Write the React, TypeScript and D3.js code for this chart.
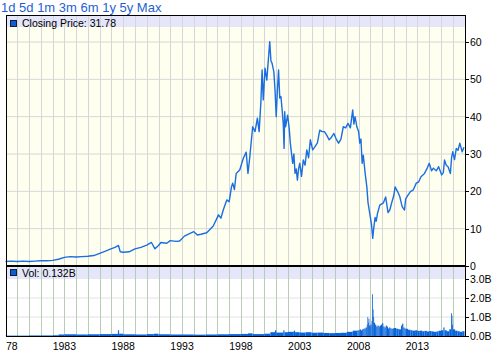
import React from "react";
import * as d3 from "d3";

// Closing price (split-adjusted), [decimal year, price]
const priceSeries: [number, number][] = [
  [1978.0, 1.2], [1978.5, 1.3], [1979.0, 1.2], [1979.5, 1.3], [1980.0, 1.2], [1980.5, 1.3],
  [1981.0, 1.4], [1981.5, 1.4], [1982.0, 1.5], [1982.5, 1.8], [1983.0, 2.3], [1983.5, 2.5],
  [1984.0, 2.4], [1984.5, 2.5], [1985.0, 2.6], [1985.5, 2.8], [1986.0, 3.4], [1986.5, 4.0],
  [1986.9, 4.5], [1987.3, 5.0], [1987.6, 5.5], [1987.75, 3.8], [1988.0, 3.7], [1988.5, 3.8],
  [1989.0, 4.6], [1989.5, 5.0], [1990.0, 5.6], [1990.4, 6.3], [1990.7, 4.6], [1991.0, 5.5],
  [1991.2, 6.3], [1991.7, 6.1], [1992.0, 6.8], [1992.5, 6.6], [1992.8, 6.7], [1993.2, 8.0],
  [1993.5, 8.5], [1994.0, 9.2], [1994.3, 8.3], [1994.6, 8.5], [1995.1, 8.9], [1995.65, 10.7],
  [1996.1, 13.7], [1996.3, 12.8], [1996.5, 15.0], [1996.8, 17.7], [1997.0, 17.2], [1997.2, 21.2],
  [1997.3, 22.2], [1997.45, 20.5], [1997.6, 24.8], [1997.9, 25.7], [1998.2, 28.8], [1998.45, 30.5],
  [1998.6, 24.8], [1998.75, 29.0], [1999.0, 37.3], [1999.2, 36.0], [1999.4, 39.6], [1999.55, 36.0],
  [1999.7, 44.0], [1999.8, 52.5], [1999.9, 44.5], [2000.05, 53.0], [2000.2, 49.8], [2000.35, 56.0],
  [2000.45, 60.1], [2000.55, 55.0], [2000.65, 54.3], [2000.8, 52.0], [2000.9, 47.1], [2001.0, 40.0],
  [2001.1, 47.0], [2001.2, 52.5], [2001.3, 45.0], [2001.4, 45.4], [2001.5, 42.0], [2001.6, 38.0],
  [2001.67, 31.5], [2001.72, 41.3], [2001.8, 37.3], [2001.97, 40.4], [2002.1, 37.0], [2002.2, 32.9],
  [2002.4, 27.5], [2002.5, 30.0], [2002.6, 24.8], [2002.7, 26.0], [2002.8, 23.0], [2002.9, 26.0],
  [2003.0, 27.5], [2003.15, 24.0], [2003.3, 28.4], [2003.45, 27.0], [2003.6, 31.1], [2003.75, 29.0],
  [2003.9, 33.8], [2004.1, 31.1], [2004.3, 32.0], [2004.5, 33.0], [2004.7, 36.4], [2004.9, 36.0],
  [2005.1, 36.0], [2005.3, 35.0], [2005.5, 33.8], [2005.7, 34.5], [2005.9, 35.5], [2006.1, 34.0],
  [2006.3, 32.9], [2006.5, 34.0], [2006.7, 37.3], [2006.9, 37.0], [2007.1, 38.2], [2007.3, 37.0],
  [2007.5, 41.8], [2007.6, 38.0], [2007.7, 40.0], [2007.85, 37.3], [2008.0, 36.0], [2008.1, 32.9],
  [2008.2, 34.0], [2008.3, 27.5], [2008.4, 29.7], [2008.55, 25.0], [2008.7, 21.2], [2008.8, 17.0],
  [2008.9, 15.0], [2009.0, 13.0], [2009.1, 11.0], [2009.2, 7.4], [2009.3, 10.5], [2009.4, 13.0],
  [2009.5, 12.0], [2009.6, 14.0], [2009.8, 16.3], [2010.1, 16.9], [2010.3, 18.5], [2010.5, 14.3],
  [2010.65, 15.0], [2010.8, 16.8], [2011.0, 19.0], [2011.1, 21.2], [2011.3, 20.0], [2011.5, 18.6],
  [2011.7, 15.9], [2011.9, 15.0], [2012.0, 18.0], [2012.2, 19.0], [2012.4, 19.9], [2012.65, 20.4],
  [2012.9, 22.2], [2013.1, 22.5], [2013.3, 23.9], [2013.6, 24.8], [2013.8, 26.0], [2014.0, 27.5],
  [2014.2, 25.5], [2014.35, 26.2], [2014.6, 25.5], [2014.8, 26.6], [2015.06, 24.4], [2015.2, 25.0],
  [2015.3, 28.4], [2015.45, 27.0], [2015.6, 26.6], [2015.8, 24.8], [2015.9, 29.0], [2016.0, 30.6],
  [2016.15, 28.5], [2016.3, 31.5], [2016.45, 31.0], [2016.6, 32.9], [2016.8, 30.6], [2016.95, 31.8],
];

// Volume in billions of shares, [decimal year, volume]
const volumeSeries: [number, number][] = [
  [1978.0, 0.02], [1979.0, 0.02], [1980.0, 0.03], [1981.0, 0.03], [1982.0, 0.04], [1982.5, 0.08],
  [1983.0, 0.09], [1984.0, 0.08], [1985.0, 0.09], [1986.0, 0.1], [1987.0, 0.11], [1987.55, 0.3],
  [1987.65, 0.12], [1988.0, 0.09], [1989.0, 0.08], [1990.0, 0.1], [1990.6, 0.12], [1991.0, 0.09],
  [1992.0, 0.08], [1993.0, 0.08], [1994.0, 0.07], [1995.0, 0.08], [1996.0, 0.09], [1997.0, 0.1],
  [1998.0, 0.11], [1998.6, 0.14], [1999.0, 0.1], [2000.0, 0.12], [2000.5, 0.2], [2000.9, 0.3],
  [2001.0, 0.18], [2001.6, 0.3], [2001.7, 0.2], [2002.0, 0.22], [2002.5, 0.28], [2002.6, 0.2],
  [2003.0, 0.18], [2003.5, 0.2], [2004.0, 0.17], [2004.5, 0.18], [2005.0, 0.16], [2005.5, 0.15],
  [2006.0, 0.16], [2006.5, 0.17], [2007.0, 0.22], [2007.5, 0.28], [2007.9, 0.3], [2008.0, 0.3],
  [2008.1, 0.35], [2008.2, 0.3], [2008.3, 0.35], [2008.4, 0.38], [2008.5, 0.4], [2008.6, 0.45],
  [2008.7, 0.6], [2008.75, 1.0], [2008.8, 0.7], [2008.85, 0.9], [2008.9, 0.55], [2008.95, 0.5],
  [2009.0, 0.6], [2009.1, 0.8], [2009.15, 2.2], [2009.2, 1.4], [2009.25, 1.0], [2009.3, 0.7],
  [2009.4, 0.6], [2009.5, 0.5], [2009.6, 0.55], [2009.7, 0.5], [2009.8, 0.55], [2009.9, 0.6],
  [2010.0, 0.67], [2010.1, 0.5], [2010.2, 0.45], [2010.3, 0.55], [2010.4, 0.5], [2010.5, 0.4],
  [2010.6, 0.45], [2010.7, 0.4], [2010.8, 0.38], [2010.9, 0.4], [2011.0, 0.42], [2011.2, 0.38],
  [2011.4, 0.35], [2011.6, 0.55], [2011.7, 0.65], [2011.8, 0.45], [2011.9, 0.4], [2012.0, 0.38],
  [2012.2, 0.33], [2012.4, 0.3], [2012.6, 0.28], [2012.8, 0.3], [2013.0, 0.27], [2013.2, 0.28],
  [2013.4, 0.25], [2013.6, 0.27], [2013.8, 0.24], [2014.0, 0.26], [2014.2, 0.24], [2014.4, 0.22],
  [2014.6, 0.24], [2014.8, 0.28], [2015.0, 0.3], [2015.2, 0.45], [2015.3, 0.3], [2015.5, 0.25],
  [2015.7, 0.35], [2015.85, 1.2], [2015.9, 1.07], [2015.95, 0.6], [2016.0, 0.35], [2016.2, 0.28],
  [2016.4, 0.25], [2016.6, 0.22], [2016.8, 0.25], [2017.0, 0],
];

const rangeLinks = ["1d", "5d", "1m", "3m", "6m", "1y", "5y", "Max"];
const priceTicks = [0, 10, 20, 30, 40, 50, 60];
const volumeTicks = [0, 1, 2, 3];
const yearLabels = [1978, 1983, 1988, 1993, 1998, 2003, 2008, 2013];
const yearLabelTexts = ["78", "1983", "1988", "1993", "1998", "2003", "2008", "2013"];
const gridYears = d3.range(1979, 2017);
const priceLegend = "Closing Price: 31.78";
const volumeLegend = "Vol: 0.132B";

const FONT = "'Liberation Sans', Arial, sans-serif";

export default function App() {
  const left = 6, right = 465;
  const pTop = 15, pBottom = 266;
  const vTop = 267, vBottom = 336;

  const x = d3.scaleLinear().domain([1978.0, 2017.04]).range([5.5, right]);
  const yP = d3.scaleLinear().domain([0, 60]).range([pBottom, 42]);
  const yV = d3.scaleLinear().domain([0, 3]).range([vBottom, 279]);

  const line = d3.line<[number, number]>().x(d => x(d[0])).y(d => yP(d[1]));

  return (
    <svg width={497} height={356} style={{ position: "absolute", left: 0, top: 0 }} fontFamily={FONT}>
      <rect x={0} y={0} width={497} height={356} fill="#ffffff" />
      {/* range links */}
      <text x={1} y={12} fontSize={13} fill="#1f5fd0">{rangeLinks.join(" ")}</text>

      {/* price panel */}
      <rect x={left} y={pTop} width={right - left} height={pBottom - pTop} fill="#fffff0" />
      <rect x={left} y={pTop} width={right - left} height={12} fill="#e6e6fa" />
      {priceTicks.filter(t => t > 0).map(t => (
        <line key={"hp" + t} x1={left} x2={right} y1={yP(t)} y2={yP(t)} stroke="#d6d6d6" />
      ))}
      {gridYears.map(yr => (
        <line key={"vp" + yr} x1={Math.round(x(yr)) + 0.5} x2={Math.round(x(yr)) + 0.5} y1={pTop} y2={pBottom} stroke="#d6d6d6" />
      ))}
      <path d={line(priceSeries) || ""} fill="none" stroke="#1a6ee0" strokeWidth={1.4} strokeLinejoin="round" />
      <rect x={10.5} y={20.5} width={6} height={6} fill="#0a5fd6" stroke="#1a1a40" />
      <text x={22} y={27} fontSize={10.5} fill="#000">{priceLegend}</text>

      {/* volume panel */}
      <rect x={left} y={vTop} width={right - left} height={vBottom - vTop} fill="#ffffff" />
      <rect x={left} y={vTop} width={right - left} height={12} fill="#e6e6fa" />
      {volumeTicks.filter(t => t > 0 && t < 3).map(t => (
        <line key={"hv" + t} x1={left} x2={right} y1={yV(t)} y2={yV(t)} stroke="#e2e2e2" />
      ))}
      {gridYears.map(yr => (
        <line key={"vv" + yr} x1={Math.round(x(yr)) + 0.5} x2={Math.round(x(yr)) + 0.5} y1={vTop} y2={vBottom} stroke="#b8ccb8" />
      ))}
      {volumeSeries.slice(0, -1).map((d, i) => {
        const x0 = x(d[0]);
        const x1 = x(volumeSeries[i + 1][0]);
        return (
          <rect key={"vb" + i} x={x0} y={yV(d[1])} width={Math.max(0.8, x1 - x0)} height={vBottom - yV(d[1])} fill="#0a64d8" />
        );
      })}
      <rect x={10.5} y={269.5} width={6} height={6} fill="#0a5fd6" stroke="#1a1a40" />
      <text x={22} y={276.5} fontSize={10.5} fill="#000">{volumeLegend}</text>

      {/* frame */}
      <line x1={left} x2={right} y1={pTop + 0.5} y2={pTop + 0.5} stroke="#000" />
      <line x1={left + 0.5} x2={left + 0.5} y1={pTop} y2={vBottom} stroke="#000" />
      <line x1={right + 0.5} x2={right + 0.5} y1={pTop} y2={vBottom + 1} stroke="#000" />
      <line x1={left} x2={right} y1={pBottom} y2={pBottom} stroke="#000" strokeWidth={2} />
      <line x1={left} x2={right + 1} y1={vBottom + 0.5} y2={vBottom + 0.5} stroke="#000" />

      {/* price axis */}
      {priceTicks.map(t => (
        <g key={"pt" + t}>
          <line x1={right} x2={right + 4} y1={Math.round(yP(t)) + 0.5} y2={Math.round(yP(t)) + 0.5} stroke="#000" />
          <text x={right + 5} y={yP(t) + 4} fontSize={10.5} fill="#000">{t}</text>
        </g>
      ))}
      {/* volume axis */}
      {volumeTicks.map(t => (
        <g key={"vt" + t}>
          <line x1={right} x2={right + 4} y1={Math.round(yV(t)) + 0.5} y2={Math.round(yV(t)) + 0.5} stroke="#000" />
          <text x={right + 5} y={yV(t) + 4} fontSize={10.5} fill="#000">{t.toFixed(1) + "B"}</text>
        </g>
      ))}
      {/* time axis labels */}
      {yearLabels.map((yr, i) => (
        i === 0
          ? <text key={"yl" + yr} x={x(yr) + 0.5} y={350} fontSize={10.5} textAnchor="start" fill="#000">{yearLabelTexts[i]}</text>
          : <text key={"yl" + yr} x={x(yr)} y={350} fontSize={10.5} textAnchor="middle" fill="#000">{yearLabelTexts[i]}</text>
      ))}
    </svg>
  );
}
